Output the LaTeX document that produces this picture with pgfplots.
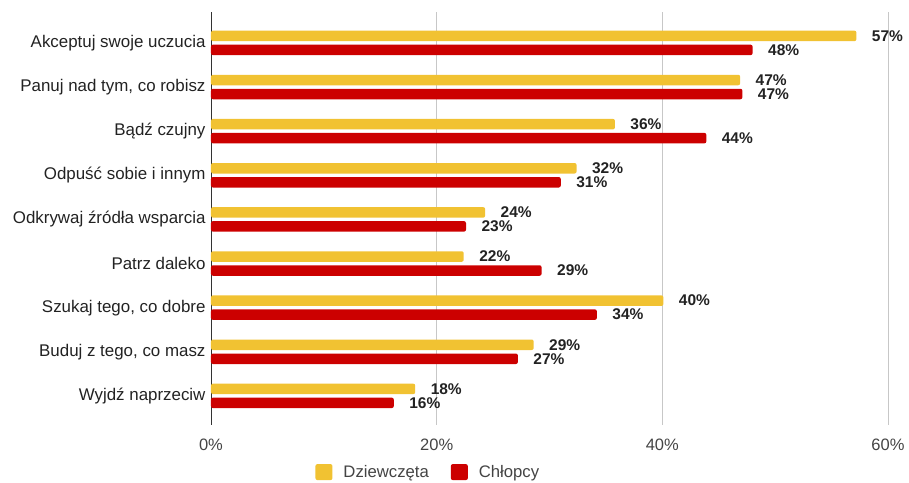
\documentclass[border=0pt]{standalone}
\usepackage{pgfplots}
\pgfplotsset{compat=1.18}
\usepackage{fontspec}
\setmainfont{Liberation Sans}
\definecolor{yel}{HTML}{F1C232}
\definecolor{rd}{HTML}{CC0000}
\definecolor{txt}{HTML}{222222}
\definecolor{tick}{HTML}{444444}
\begin{document}
\begin{tikzpicture}
\begin{axis}[
  scale only axis,
  width=677pt, height=413pt,
  xbar, bar width=10.5pt,
  xmin=0, xmax=60,
  ymin=-0.7, ymax=8.66,
  y dir=reverse,
  ytick={0,...,8},
  yticklabels={Akceptuj swoje uczucia,{Panuj nad tym, co robisz},Bądź czujny,Odpuść sobie i innym,Odkrywaj źródła wsparcia,Patrz daleko,{Szukaj tego, co dobre},{Buduj z tego, co masz},Wyjdź naprzeciw},
  xtick={0,20,40,60},
  xticklabel={\pgfmathprintnumber{\tick}\%},
  axis x line*=bottom, axis y line*=left,
  x axis line style={draw=none},
  y axis line style={draw=black!80, line width=0.9pt},
  major tick length=0pt,
  xmajorgrids, grid style={draw=black!22, line width=0.8pt},
  yticklabel style={font=\fontsize{16.9}{19}\selectfont, text=txt, xshift=-2pt},
  xticklabel style={font=\fontsize{16.5}{19}\selectfont, text=tick, yshift=-10pt},
  /pgf/number format/assume math mode=true,
  clip=false,
  point meta=x,
  nodes near coords={\pgfmathprintnumber[fixed,precision=0]{\pgfplotspointmeta}\%},
  nodes near coords style={font=\bfseries\fontsize{15.5}{18}\selectfont, text=txt, anchor=west, xshift=12pt},
  legend style={at={(0.321,-0.114)}, anchor=center, draw=none, legend columns=2,
    font=\fontsize{16.7}{19}\selectfont, text=tick,
    /tikz/every odd column/.append style={column sep=9pt},
    /tikz/every even column/.append style={column sep=20pt}},
  legend image code/.code={\fill[#1] (0pt,-8pt) rectangle (17pt,8pt);},
]
\addplot[fill=yel, draw=none, rounded corners=2pt, bar shift=7pt] coordinates {
(57.2,0) (46.9,1) (35.8,2) (32.4,3) (24.3,4) (22.4,5) (40.1,6) (28.6,7) (18.1,8)};
\addplot[fill=rd, draw=none, rounded corners=2pt, bar shift=-7pt] coordinates {
(48.0,0) (47.1,1) (43.9,2) (31.0,3) (22.6,4) (29.3,5) (34.2,6) (27.2,7) (16.2,8)};
\legend{Dziewczęta, Chłopcy}
\path (rel axis cs:0,0) -- ++(-211pt,-56pt);
\path (rel axis cs:1,1) -- ++(21pt,12pt);
\end{axis}
\end{tikzpicture}
\end{document}
